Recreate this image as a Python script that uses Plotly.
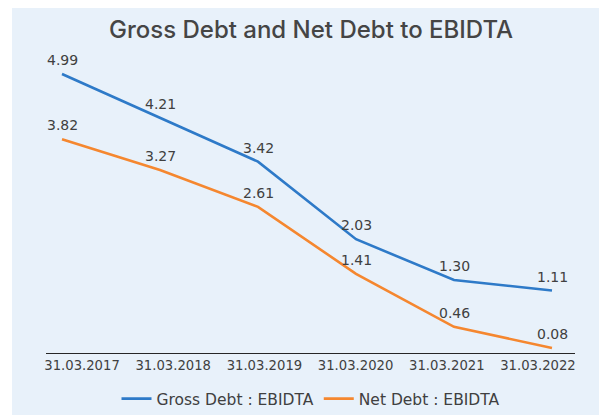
import plotly.graph_objects as go

W, H = 607, 415
OFF = 8  # margen del body de la pagina

fechas = ["31.03.2017", "31.03.2018", "31.03.2019", "31.03.2020", "31.03.2021", "31.03.2022"]
deuda_bruta = [4.99, 4.21, 3.42, 2.03, 1.30, 1.11]
deuda_neta = [3.82, 3.27, 2.61, 1.41, 0.46, 0.08]

AZUL = "#2E7AC8"
NARANJA = "#F5872F"
GRIS = "#404040"
FONDO = "#E8F1FA"
FUENTE = "DejaVu Sans"


def px_x(p):
    return (p - OFF) / W


def px_y(p):
    return 1 - (p - OFF) / H


fig = go.Figure()

fig.add_trace(go.Scatter(
    x=fechas, y=deuda_bruta, name="Gross Debt : EBIDTA",
    mode="lines", line=dict(color=AZUL, width=2.6),
))
fig.add_trace(go.Scatter(
    x=fechas, y=deuda_neta, name="Net Debt : EBIDTA",
    mode="lines", line=dict(color=NARANJA, width=2.6),
))
# traza vacia para que exista el eje de etiquetas (x2)
fig.add_trace(go.Scatter(x=[], y=[], xaxis="x2", yaxis="y",
                         showlegend=False, hoverinfo="skip"))

# etiquetas de datos sobre cada punto
for serie in (deuda_bruta, deuda_neta):
    for f, v in zip(fechas, serie):
        fig.add_annotation(x=f, y=v, xref="x", yref="y", text=f"{v:.2f}",
                           showarrow=False, yanchor="bottom", yshift=4,
                           font=dict(size=14, color=GRIS, family=FUENTE))

# fondo celeste del recuadro
fig.add_shape(type="rect", xref="paper", yref="paper",
              x0=px_x(12), x1=px_x(604), y0=-0.1, y1=1.1,
              fillcolor=FONDO, line=dict(width=0), layer="below")

y0_px, esc = 352.5, 55.8   # pixel del cero y px por unidad
y_max = 6.0

fig.update_layout(
    template="none",
    width=W, height=H,
    margin=dict(l=0, r=0, t=0, b=0, pad=0),
    paper_bgcolor="white",
    plot_bgcolor="rgba(0,0,0,0)",
    font=dict(family=FUENTE, color=GRIS),
    title=dict(text="Gross Debt and Net Debt to EBIDTA",
               x=px_x(311), xanchor="center", y=px_y(30), yanchor="middle",
               font=dict(size=24, color="#454545", family="Inter", weight=500)),
    xaxis=dict(type="category", domain=[px_x(13), px_x(601)], range=[-0.5, 5.5],
               showticklabels=False, showline=False, showgrid=False, zeroline=False,
               automargin=False),
    xaxis2=dict(type="linear", anchor="y", domain=[px_x(46), px_x(575)],
                range=[-0.395, 5.406], tickmode="array",
                tickvals=list(range(len(fechas))), ticktext=fechas,
                showline=True, linecolor="#262626", linewidth=1.4,
                showgrid=False, zeroline=False, ticks="", automargin=False,
                tickfont=dict(size=13.2, color=GRIS, family=FUENTE)),
    yaxis=dict(domain=[px_y(y0_px), px_y(y0_px - y_max * esc)], range=[0, y_max],
               visible=False, automargin=False),
    legend=dict(orientation="h", x=px_x(311), xanchor="center",
                y=px_y(399), yanchor="middle",
                font=dict(size=15.5, color=GRIS, family=FUENTE),
                bgcolor="rgba(0,0,0,0)", itemwidth=30),
    showlegend=True,
)

fig.write_html("out.html")
